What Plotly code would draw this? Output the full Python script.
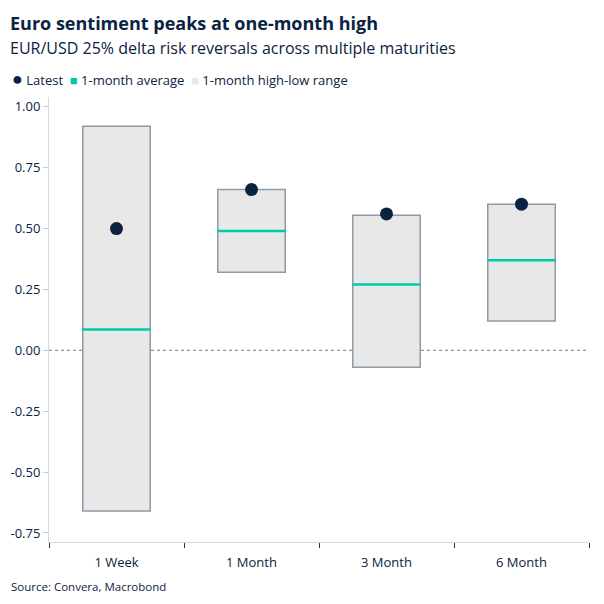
import plotly.graph_objects as go

maturities = ["1 Week", "1 Month", "3 Month", "6 Month"]
range_high = [0.92, 0.66, 0.555, 0.60]
range_low = [-0.66, 0.32, -0.07, 0.12]
month_avg = [0.085, 0.49, 0.27, 0.37]
latest = [0.50, 0.66, 0.56, 0.60]

y_ticks = [-0.75, -0.50, -0.25, 0.00, 0.25, 0.50, 0.75, 1.00]
y_ticktext = [f"{v:.2f}" for v in y_ticks]

navy = "#0b2341"
teal = "#00c9b1"
box_fill = "#e8e8e8"
box_edge = "#8e9aa6"
font = "Open Sans"

fig = go.Figure()

# high-low range boxes
fig.add_trace(go.Bar(
    x=maturities,
    y=[h - l for h, l in zip(range_high, range_low)],
    base=range_low,
    width=0.5,
    marker=dict(color=box_fill, line=dict(color=box_edge, width=1.5)),
    showlegend=False,
    hoverinfo="skip",
))

# 1-month average as a horizontal tick across each box
fig.add_trace(go.Scatter(
    x=maturities, y=month_avg, mode="markers",
    marker=dict(symbol="line-ew", size=48.5, color=teal,
                line=dict(color=teal, width=2.5)),
    showlegend=False,
))

fig.add_trace(go.Scatter(
    x=maturities, y=latest, mode="markers",
    marker=dict(symbol="circle", size=13, color=navy),
    showlegend=False,
))

fig.add_shape(type="line", xref="paper", yref="y", x0=0, x1=0.996, y0=0, y1=0,
              line=dict(color="#777777", width=1, dash="3px,3px"), layer="below")

# plot area: x 49..589, y 97..542 (pixels)
def py(px):
    return (542 - px) / 445

def px_x(px):
    return (px - 49) / 540

fig.add_annotation(text="<b>Euro sentiment peaks at one-month high</b>",
                   xref="paper", yref="paper", x=px_x(8), y=py(23),
                   xanchor="left", yanchor="middle", showarrow=False,
                   font=dict(size=18, color=navy, family=font))
fig.add_annotation(text="EUR/USD 25% delta risk reversals across multiple maturities",
                   xref="paper", yref="paper", x=px_x(8), y=py(48),
                   xanchor="left", yanchor="middle", showarrow=False,
                   font=dict(size=16, color=navy, family=font))
legend_text = (
    f"<span style='color:{navy};font-size:18px'>●</span> Latest&nbsp; "
    f"<span style='color:{teal}'>■</span> 1-month average&nbsp; "
    f"<span style='color:{box_fill}'>■</span> 1-month high-low range"
)
fig.add_annotation(text=legend_text,
                   xref="paper", yref="paper", x=px_x(10), y=py(78),
                   xanchor="left", yanchor="middle", showarrow=False,
                   font=dict(size=13, color=navy, family=font))
fig.add_annotation(text="Source: Convera, Macrobond",
                   xref="paper", yref="paper", x=px_x(9), y=py(586),
                   xanchor="left", yanchor="middle", showarrow=False,
                   font=dict(size=11.5, color=navy, family=font))

fig.update_layout(
    width=604, height=604,
    margin=dict(l=49, r=15, t=97, b=62),
    paper_bgcolor="white", plot_bgcolor="white",
    font=dict(family=font, size=13, color=navy),
    showlegend=False,
    xaxis=dict(
        type="category", showgrid=False, showline=True, linecolor="#d9d9d9",
        ticks="outside", tickson="boundaries", ticklen=5, tickcolor="#333333",
        ticklabelstandoff=8,
        tickfont=dict(size=13, color=navy), automargin=False,
    ),
    yaxis=dict(
        range=[-0.787, 1.04], showgrid=False, zeroline=False,
        showline=True, linecolor="#d9d9d9",
        ticks="outside", ticklen=5, tickcolor="#cccccc",
        tickvals=y_ticks, ticktext=y_ticktext,
        tickfont=dict(size=13, color=navy), automargin=False,
    ),
)

fig.write_html("out.html", config={"displayModeBar": False},
               post_script="document.body.style.margin='0';")
